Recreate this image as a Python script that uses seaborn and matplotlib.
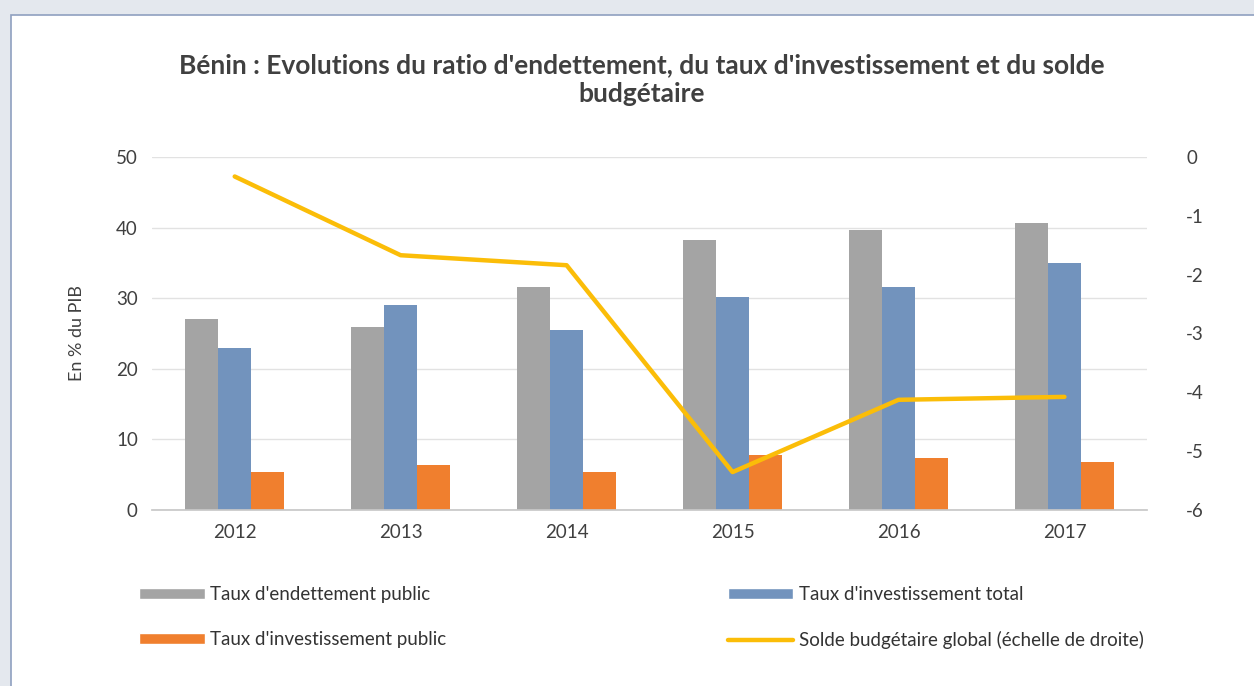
import numpy as np
import pandas as pd
import matplotlib.pyplot as plt
import seaborn as sns
from matplotlib.patches import Patch, Rectangle
from matplotlib.lines import Line2D

years = ["2012", "2013", "2014", "2015", "2016", "2017"]
endettement = [27.1, 25.9, 31.6, 38.2, 39.6, 40.6]
invest_total = [22.9, 29.0, 25.5, 30.2, 31.6, 35.0]
invest_public = [5.4, 6.4, 5.4, 7.8, 7.4, 6.8]
solde = [-0.33, -1.67, -1.84, -5.36, -4.13, -4.08]

series_names = ["Taux d'endettement public", "Taux d'investissement total",
                "Taux d'investissement public"]
line_name = "Solde budgétaire global (échelle de droite)"
colors = ["#a4a4a4", "#7293bd", "#f07f2e"]
line_color = "#fbbd08"

sns.set_theme(style="white")
plt.rcParams['font.family'] = ['Lato', 'DejaVu Sans']
plt.rcParams['axes.unicode_minus'] = False

df = pd.DataFrame({
    "year": years * 3,
    "value": endettement + invest_total + invest_public,
    "serie": [s for s in series_names for _ in years],
})

fig = plt.figure(figsize=(12.54, 6.86), dpi=100, facecolor="#e4e8ee")
# white chart panel with thin frame
fig.patches.append(Rectangle((11 / 1254, -0.01), 1, 1 - 15 / 686 + 0.01,
                             transform=fig.transFigure, facecolor="white",
                             edgecolor="#8fa0c0", linewidth=1.2, zorder=-10))

ax = fig.add_axes([0.121, 0.257, 0.794, 0.514])
ax.set_facecolor("none")
sns.barplot(data=df, x="year", y="value", hue="serie", palette=colors,
            width=0.6, gap=0, saturation=1, legend=False, linewidth=0, ax=ax)
ax.set_ylim(0, 50)
ax.set_yticks(range(0, 51, 10))
ax.set_xlim(-0.5, len(years) - 0.5)
ax.grid(axis="y", color="#e2e2e2", linewidth=1)
ax.set_axisbelow(True)
for s in ["top", "right", "left"]:
    ax.spines[s].set_visible(False)
ax.spines["bottom"].set_color("#c8c8c8")
ax.tick_params(axis="both", length=0, labelsize=13.5, colors="#404040", pad=10)
ax.set_xlabel("")
ax.set_ylabel("En % du PIB", fontsize=13, color="#404040", labelpad=22)

ax2 = ax.twinx()
sns.lineplot(x=np.arange(len(years)), y=solde, color=line_color, linewidth=3.2,
             ax=ax2)
ax2.set_ylim(-6, 0)
ax2.set_yticks(range(-6, 1))
ax2.tick_params(axis="y", length=0, labelsize=13.5, colors="#404040", pad=28)
for s in ["top", "right", "left", "bottom"]:
    ax2.spines[s].set_visible(False)
ax2.grid(False)

fig.text(0.512, 0.884,
         "Bénin : Evolutions du ratio d'endettement, du taux d'investissement et du solde\nbudgétaire",
         ha="center", va="center", fontsize=19, fontweight="bold", color="#404040",
         linespacing=1.2)

handles = [Patch(facecolor=colors[0]), Patch(facecolor=colors[2]),
           Patch(facecolor=colors[1]), Line2D([], [], color=line_color, linewidth=3.2)]
labels = [series_names[0], series_names[2], series_names[1], line_name]
fig.legend(handles, labels, ncol=2, loc="center left",
           bbox_to_anchor=(0.105, 0.1), borderaxespad=0,
           frameon=False, fontsize=13.5, handlelength=3.5, handleheight=0.55,
           handletextpad=0.3, labelspacing=1.5, columnspacing=15.0,
           labelcolor="#333333")

fig.savefig("out.png", dpi=100, facecolor=fig.get_facecolor())
